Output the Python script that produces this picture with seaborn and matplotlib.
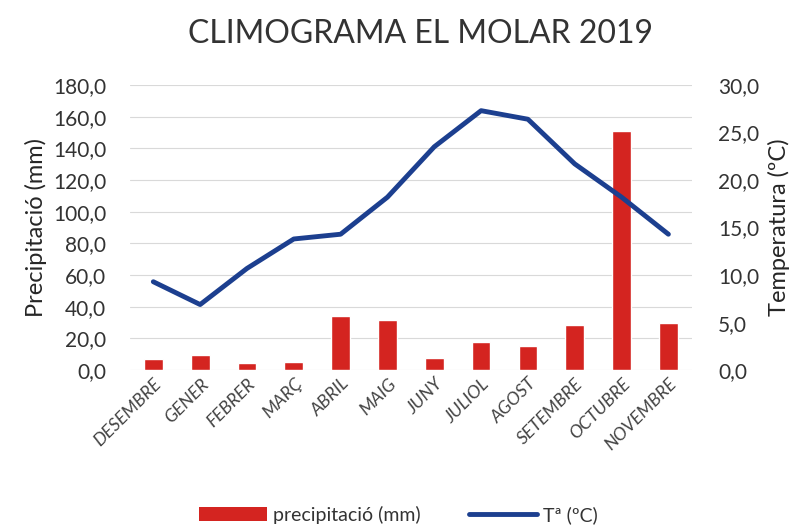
import numpy as np
import pandas as pd
import seaborn as sns
import matplotlib.pyplot as plt
from matplotlib.patches import Patch
from matplotlib.lines import Line2D
from matplotlib.ticker import FuncFormatter

# data
months = ["DESEMBRE", "GENER", "FEBRER", "MARÇ", "ABRIL", "MAIG",
          "JUNY", "JULIOL", "AGOST", "SETEMBRE", "OCTUBRE", "NOVEMBRE"]
precip_mm = [6.8, 9.5, 4.2, 4.9, 34.3, 31.6, 7.8, 17.5, 15.4, 28.4, 151.0, 29.5]
temp_c = [9.3, 6.9, 10.7, 13.8, 14.3, 18.2, 23.5, 27.3, 26.4, 21.7, 18.2, 14.3]

bar_color = "#d42420"
line_color = "#1c3f8f"
font = ["Lato", "DejaVu Sans"]

sns.set_style("white")
plt.rcParams["font.family"] = font
plt.rcParams["text.color"] = "#333333"

df = pd.DataFrame({"mes": months, "precip": precip_mm, "temp": temp_c})

fig, ax = plt.subplots(figsize=(7.97, 5.28), dpi=100)
fig.subplots_adjust(left=0.163, right=0.868, top=0.839, bottom=0.299)

sns.barplot(data=df, x="mes", y="precip", color=bar_color, width=0.4,
            saturation=1, ax=ax, zorder=2)
ax.set_ylim(0, 180)
ax.set_yticks(np.arange(0, 181, 20))
ax.yaxis.set_major_formatter(FuncFormatter(lambda v, p: f"{v:.1f}".replace(".", ",")))
ax.grid(axis="y", color="#d9d9d9", linewidth=0.8, zorder=0)
ax.set_axisbelow(True)

ax2 = ax.twinx()
sns.lineplot(data=df, x="mes", y="temp", color=line_color, linewidth=3.5,
             sort=False, ax=ax2)
ax2.set_ylim(0, 30)
ax2.set_yticks(np.arange(0, 31, 5))
ax2.yaxis.set_major_formatter(FuncFormatter(lambda v, p: f"{v:.1f}".replace(".", ",")))
ax.set_xlim(-0.5, len(months) - 0.5)

for a in (ax, ax2):
    for s in a.spines.values():
        s.set_visible(False)
    a.tick_params(axis="y", length=0, labelsize=15, labelcolor="#333333")
ax.tick_params(axis="y", pad=17)
ax2.tick_params(axis="y", pad=19)

ax.tick_params(axis="x", length=0, labelsize=13, labelcolor="#444444", pad=4)
plt.setp(ax.get_xticklabels(), rotation=45, ha="right", rotation_mode="anchor",
         fontstyle="italic")
ax.set_xlabel("")
ax.set_ylabel("Precipitació (mm)", fontsize=17, labelpad=4)
ax2.set_ylabel("Temperatura (ºC)", fontsize=17, labelpad=6)

fig.suptitle("CLIMOGRAMA EL MOLAR 2019", fontsize=23, x=0.527, y=0.935,
             va="center", color="#333333")

handles = [Patch(facecolor=bar_color, edgecolor="none"),
           Line2D([0], [0], color=line_color, linewidth=3.5)]
fig.legend(handles, ["precipitació (mm)", "Tª (ºC)"], loc="lower center",
           bbox_to_anchor=(0.5, -0.025), ncol=2, frameon=False, fontsize=14,
           handlelength=3.5, columnspacing=2.5, handletextpad=0.3)

fig.savefig("out.png", dpi=100)
